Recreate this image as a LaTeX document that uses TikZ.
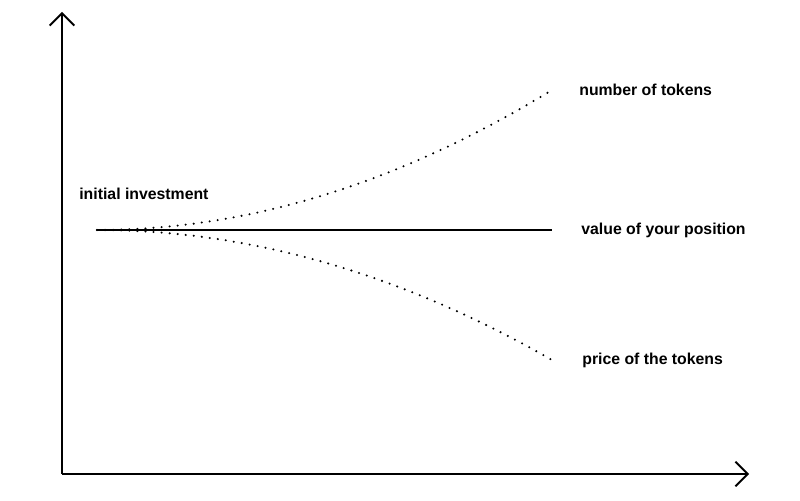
\documentclass[tikz,border=0pt]{standalone}
\usepackage{fontspec}
\setmainfont{Liberation Sans}
\usetikzlibrary{arrows.meta,positioning}
\tikzset{axis/.style={draw,line width=1.1pt,-{Straight Barb[length=7pt,width=14pt,line width=1.1pt]}}}
\tikzset{label/.style={anchor=west,inner sep=0pt,font=\bfseries\fontsize{9}{11}\selectfont}}
\tikzset{trend/.style={draw,line width=1.3pt,line cap=round,dash pattern=on 0pt off 4.6pt}}
\tikzset{flat/.style={draw,line width=1.1pt}}

\begin{document}
\begin{tikzpicture}[x=0.02cm,y=0.02cm]
    \useasboundingbox (0,0) rectangle (800,500);
    \coordinate (origin) at (62,26);
    \coordinate (ytip) at (62,488);
    \coordinate (xtip) at (749,26);
    \coordinate (start) at (97,270);
    \coordinate (tokens) at (552,410);
    \coordinate (value) at (552,270);
    \coordinate (price) at (552,140);

     \node[label] (lstart) at (79,306) {initial investment};
     \node[label,right=27 of tokens] (ltokens) {number of tokens};
     \node[label,right=29 of value] (lvalue) {value of your position};
     \node[label,right=30 of price] (lprice) {price of the tokens};

        \path[axis] (origin) -- (ytip);
        \path[axis] (origin) -- (xtip);
        \path[flat] (start) -- (value);
        \path[trend] (start) .. controls (249,270) and (400,317) .. (tokens);
        \path[trend] (start) .. controls (249,270) and (400,227) .. (price);
  \end{tikzpicture}
\end{document}
